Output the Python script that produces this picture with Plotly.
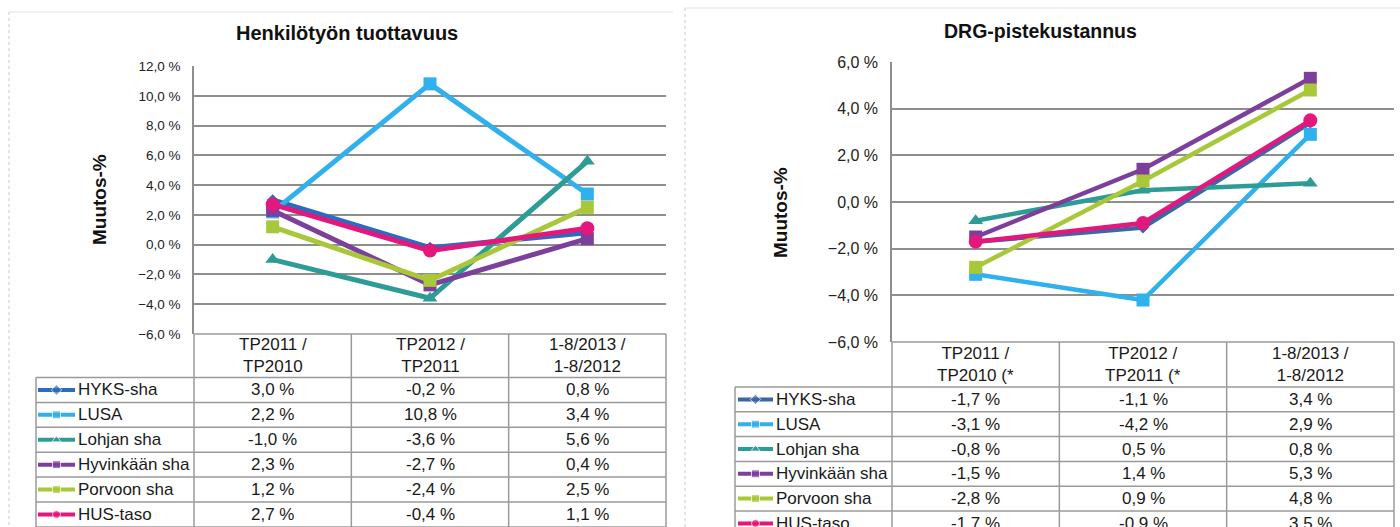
import plotly.graph_objects as go

# ---------------- data ----------------
categories_left = ["TP2011 /<br>TP2010", "TP2012 /<br>TP2011", "1-8/2013 /<br>1-8/2012"]
categories_right = ["TP2011 /<br>TP2010 (*", "TP2012 /<br>TP2011 (*", "1-8/2013 /<br>1-8/2012"]
series_names = ["HYKS-sha", "LUSA", "Lohjan sha", "Hyvinkään sha", "Porvoon sha", "HUS-taso"]

# Henkilötyön tuottavuus (muutos-%)
prod_hyks = [3.0, -0.2, 0.8]
prod_lusa = [2.2, 10.8, 3.4]
prod_lohja = [-1.0, -3.6, 5.6]
prod_hyvinkaa = [2.3, -2.7, 0.4]
prod_porvoo = [1.2, -2.4, 2.5]
prod_hus = [2.7, -0.4, 1.1]

# DRG-pistekustannus (muutos-%)
drg_hyks = [-1.7, -1.1, 3.4]
drg_lusa = [-3.1, -4.2, 2.9]
drg_lohja = [-0.8, 0.5, 0.8]
drg_hyvinkaa = [-1.5, 1.4, 5.3]
drg_porvoo = [-2.8, 0.9, 4.8]
drg_hus = [-1.7, -0.9, 3.5]

left_series = [prod_hyks, prod_lusa, prod_lohja, prod_hyvinkaa, prod_porvoo, prod_hus]
right_series = [drg_hyks, drg_lusa, drg_lohja, drg_hyvinkaa, drg_porvoo, drg_hus]

# ---------------- styles ----------------
colors_left = ["#2a6cc0", "#30b0ec", "#2e9c96", "#7d3f9c", "#a8c83a", "#e2187c"]
colors_right = ["#3b67a8", "#30b0ec", "#2e9c96", "#7d3f9c", "#a8c83a", "#e2187c"]
symbols = ["diamond", "square", "triangle-up", "square", "square", "circle"]
msizes = [9, 13, 13, 13, 13, 14]

W, H = 1400, 527
FONT = "Liberation Sans"
TXT = "#1a1a1a"
GRID = "#8e8e8e"
TABLE_FS = 17


def px(x):
    return x / W


def py(y):
    return 1 - y / H


panels = [
    dict(name="left", title="Henkilötyön tuottavuus", title_x=347, title_y=33, title_size=20,
         x0=194, x1=666, ytop=66, ybot=334, yrange=[-6, 12], lab_x0=36, head_bot=377.5,
         row_h=24.9, ytitle_x=99, ytitle_y=200, tick_size=13.5, cats=categories_left,
         series=left_series, colors=colors_left, xa="x", ya="y", lw=5,
         glyph=(38, 75), label_x=76, border=(9, 12), border_right=673),
    dict(name="right", title="DRG-pistekustannus", title_x=1040, title_y=31, title_size=19.5,
         x0=892, x1=1394, ytop=62, ybot=342, yrange=[-6, 6], lab_x0=735, head_bot=387,
         row_h=24.8, ytitle_x=780, ytitle_y=213, tick_size=16, cats=categories_right,
         series=right_series, colors=colors_right, xa="x2", ya="y2", lw=4.5,
         glyph=(738, 773), label_x=774, border=(685, 8), border_right=W),
]

fig = go.Figure()
shapes = []
annotations = []


def fmt(v):
    return f"{v:.1f}".replace(".", ",") + " %"


for p in panels:
    # data lines
    for name, vals, col, sym, ms in zip(series_names, p["series"], p["colors"], symbols, msizes):
        fig.add_trace(go.Scatter(
            x=p["cats"], y=vals, mode="lines+markers", name=name, showlegend=False,
            line=dict(color=col, width=p["lw"]),
            marker=dict(symbol=sym, size=ms, color=col, line=dict(width=0)),
            xaxis=p["xa"], yaxis=p["ya"], hoverinfo="skip"))

    # panel border (dotted) and title
    bx, by = p["border"]
    shapes.append(dict(type="line", xref="paper", yref="paper", x0=px(bx), x1=px(bx),
                       y0=py(by), y1=py(H + 5), line=dict(color="#c8c8c8", width=1, dash="dot")))
    shapes.append(dict(type="line", xref="paper", yref="paper", x0=px(bx), x1=px(p["border_right"]),
                       y0=py(by), y1=py(by), line=dict(color="#e3e3e3", width=1)))
    annotations.append(dict(text=f"<b>{p['title']}</b>", xref="paper", yref="paper",
                            x=px(p["title_x"]), y=py(p["title_y"]), xanchor="center", yanchor="middle",
                            showarrow=False, font=dict(family=FONT, size=p["title_size"], color="#111")))
    annotations.append(dict(text="<b>Muutos-%</b>", xref="paper", yref="paper", textangle=-90,
                            x=px(p["ytitle_x"]), y=py(p["ytitle_y"]), xanchor="center", yanchor="middle",
                            showarrow=False, font=dict(family=FONT, size=19, color="#111")))

    # table
    n = len(p["cats"])
    cw = (p["x1"] - p["x0"]) / n
    col_edges = [p["x0"] + i * cw for i in range(n + 1)]
    line_style = dict(color="#9a9a9a", width=1.5)
    shapes.append(dict(type="line", xref="paper", yref="paper", x0=px(p["x0"]), x1=px(p["x1"]),
                       y0=py(p["ybot"]), y1=py(p["ybot"]), line=line_style))
    for cx in col_edges:
        shapes.append(dict(type="line", xref="paper", yref="paper", x0=px(cx), x1=px(cx),
                           y0=py(p["ybot"]), y1=py(H + 5), line=line_style))
    shapes.append(dict(type="line", xref="paper", yref="paper", x0=px(p["lab_x0"]), x1=px(p["lab_x0"]),
                       y0=py(p["head_bot"]), y1=py(H + 5), line=line_style))
    for k in range(len(series_names) + 1):
        yy = p["head_bot"] + k * p["row_h"]
        shapes.append(dict(type="line", xref="paper", yref="paper", x0=px(p["lab_x0"]), x1=px(p["x1"]),
                           y0=py(yy), y1=py(yy), line=line_style))
    # header text
    for i, c in enumerate(p["cats"]):
        annotations.append(dict(text=c, xref="paper", yref="paper",
                                x=px(col_edges[i] + cw / 2), y=py((p["ybot"] + p["head_bot"]) / 2),
                                xanchor="center", yanchor="middle", showarrow=False,
                                font=dict(family=FONT, size=TABLE_FS, color=TXT)))
    # rows
    for r, (name, vals, col, sym) in enumerate(zip(series_names, p["series"], p["colors"], symbols)):
        yc = p["head_bot"] + (r + 0.5) * p["row_h"]
        annotations.append(dict(text=name, xref="paper", yref="paper", x=px(p["label_x"]), y=py(yc),
                                xanchor="left", yanchor="middle", showarrow=False,
                                font=dict(family=FONT, size=TABLE_FS, color=TXT)))
        for i, v in enumerate(vals):
            annotations.append(dict(text=fmt(v), xref="paper", yref="paper",
                                    x=px(col_edges[i] + cw / 2), y=py(yc),
                                    xanchor="center", yanchor="middle", showarrow=False,
                                    font=dict(family=FONT, size=TABLE_FS, color=TXT)))
        gx0, gx1 = p["glyph"]
        fig.add_trace(go.Scatter(
            x=[gx0, (gx0 + gx1) / 2, gx1], y=[yc, yc, yc], mode="lines+markers",
            line=dict(color=col, width=4), marker=dict(symbol=sym, size=[0, 8, 0], color=col),
            xaxis="x3", yaxis="y3", showlegend=False, hoverinfo="skip"))

L, R = panels
axis_common = dict(showgrid=True, gridcolor=GRID, gridwidth=1.5, zeroline=False,
                   showline=True, linecolor=GRID, linewidth=1.5, ticks="",
                   tickformat=".1f", ticksuffix=" %", dtick=2, ticklabelstandoff=9,
                   fixedrange=True, automargin=False)
xaxis_common = dict(showgrid=False, zeroline=False, showline=False, showticklabels=False,
                    range=[-0.5, 2.5], fixedrange=True, automargin=False)

fig.update_layout(
    width=W, height=H, autosize=False,
    margin=dict(l=0, r=0, t=0, b=0, pad=0, autoexpand=False),
    paper_bgcolor="white", plot_bgcolor="rgba(0,0,0,0)",
    separators=", ",
    showlegend=False,
    xaxis=dict(domain=[px(L["x0"]), px(L["x1"])], **xaxis_common),
    yaxis=dict(domain=[py(L["ybot"]), py(L["ytop"])], range=L["yrange"],
               tickfont=dict(family=FONT, size=L["tick_size"], color="#222"), **axis_common),
    xaxis2=dict(domain=[px(R["x0"]), px(R["x1"])], anchor="y2", **xaxis_common),
    yaxis2=dict(domain=[py(R["ybot"]), py(R["ytop"])], range=R["yrange"], anchor="x2",
                tickfont=dict(family=FONT, size=R["tick_size"], color="#222"), **axis_common),
    xaxis3=dict(domain=[0, 1], range=[0, W], visible=False, anchor="y3", fixedrange=True, automargin=False),
    yaxis3=dict(domain=[0, 1], range=[H, 0], visible=False, anchor="x3", fixedrange=True, automargin=False),
    shapes=shapes,
    annotations=annotations,
)

fig.write_html(
    "out.html",
    config={"displayModeBar": False},
    post_script="document.body.style.margin='0';document.body.style.overflow='hidden';",
)
